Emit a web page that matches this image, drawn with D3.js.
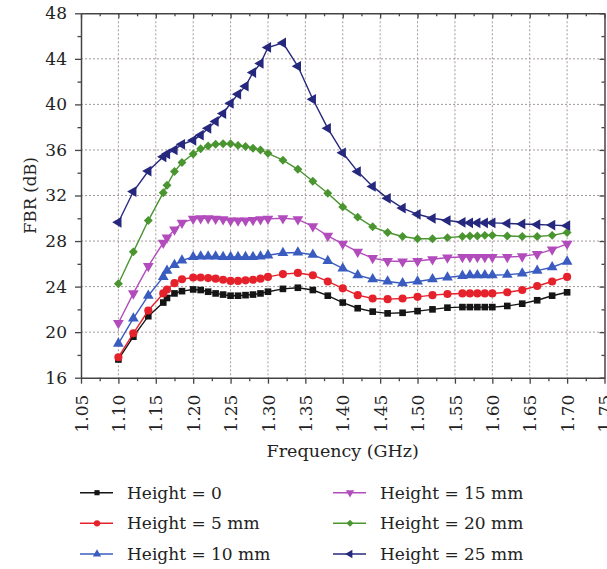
<!DOCTYPE html>
<html>
<head>
<meta charset="utf-8">
<script src="https://cdn.jsdelivr.net/npm/d3@7"></script>
<style>
  body { margin: 0; background: #fff; }
  svg { display: block; }
  svg text { font-family: "DejaVu Serif", "Liberation Serif", serif; }
</style>
</head>
<body>
<svg id="chart" width="607" height="569"></svg>
<script>
const freq = [1.10, 1.12, 1.14, 1.16, 1.165, 1.175, 1.185, 1.20, 1.21, 1.22, 1.23, 1.24, 1.25, 1.26, 1.27, 1.28, 1.29, 1.30,
  1.32, 1.34, 1.36, 1.38, 1.40, 1.42, 1.44, 1.46, 1.48, 1.50, 1.52, 1.54, 1.56, 1.57, 1.58, 1.59, 1.60, 1.62, 1.64, 1.66, 1.68, 1.70];

const height0 = [17.6, 19.6, 21.4, 22.6, 23.0, 23.4, 23.6, 23.75, 23.7, 23.55, 23.4, 23.3, 23.2, 23.2, 23.25, 23.3, 23.4, 23.55,
  23.8, 23.9, 23.7, 23.2, 22.6, 22.1, 21.8, 21.65, 21.7, 21.85, 22.0, 22.15, 22.2, 22.2, 22.2, 22.2, 22.2, 22.3, 22.5, 22.8, 23.2, 23.5];
const height5 = [17.8, 19.9, 21.9, 23.4, 23.75, 24.3, 24.65, 24.8, 24.8, 24.75, 24.7, 24.6, 24.5, 24.5, 24.55, 24.6, 24.7, 24.85,
  25.1, 25.2, 25.0, 24.45, 23.85, 23.25, 22.95, 22.9, 22.95, 23.1, 23.25, 23.35, 23.4, 23.4, 23.4, 23.4, 23.4, 23.5, 23.7, 24.05, 24.45, 24.85];
const height10 = [19.0, 21.2, 23.2, 24.85, 25.4, 25.9, 26.3, 26.6, 26.65, 26.65, 26.65, 26.6, 26.6, 26.6, 26.6, 26.6, 26.65, 26.75,
  26.95, 27.0, 26.8, 26.25, 25.6, 25.0, 24.65, 24.45, 24.3, 24.45, 24.65, 24.8, 24.95, 25.0, 25.0, 25.0, 25.0, 25.05, 25.15, 25.4, 25.7, 26.2];
const height15 = [20.8, 23.4, 25.8, 27.85, 28.3, 29.0, 29.6, 29.95, 30.0, 30.0, 29.95, 29.9, 29.8, 29.8, 29.8, 29.85, 29.9, 29.95,
  30.0, 29.9, 29.3, 28.45, 27.75, 27.05, 26.5, 26.25, 26.2, 26.25, 26.4, 26.55, 26.6, 26.6, 26.6, 26.6, 26.6, 26.6, 26.65, 26.85, 27.25, 27.75];
const height20 = [24.25, 27.05, 29.8, 32.25, 32.9, 34.1, 34.9, 35.65, 36.1, 36.35, 36.5, 36.55, 36.55, 36.4, 36.3, 36.15, 36.0, 35.7,
  35.1, 34.3, 33.25, 32.2, 31.0, 30.1, 29.25, 28.75, 28.4, 28.2, 28.2, 28.3, 28.4, 28.45, 28.45, 28.5, 28.5, 28.45, 28.4, 28.4, 28.5, 28.75];
const height25 = [29.65, 32.35, 34.15, 35.4, 35.65, 36.0, 36.5, 36.85, 37.3, 37.9, 38.5, 39.2, 40.1, 40.9, 41.6, 42.8, 43.6, 45.0,
  45.4, 43.35, 40.45, 37.9, 35.75, 34.1, 32.8, 31.75, 30.9, 30.35, 30.0, 29.8, 29.65, 29.6, 29.6, 29.6, 29.6, 29.55, 29.5, 29.45, 29.4, 29.35];

const seriesNames = ["Height = 0", "Height = 5 mm", "Height = 10 mm", "Height = 15 mm", "Height = 20 mm", "Height = 25 mm"];
const xTicks = [1.05, 1.10, 1.15, 1.20, 1.25, 1.30, 1.35, 1.40, 1.45, 1.50, 1.55, 1.60, 1.65, 1.70, 1.75];
const yTicks = [16, 20, 24, 28, 32, 36, 40, 44, 48];

const seriesValues = [height0, height5, height10, height15, height20, height25];
const colors = ["#151515", "#e5222b", "#3a5cc0", "#b24cbc", "#4a9530", "#26287e"];
// symbol type, rotation, size
const markers = [
  [d3.symbolSquare, 0, 44],
  [d3.symbolCircle, 0, 52],
  [d3.symbolTriangle, 0, 50],
  [d3.symbolTriangle, 180, 50],
  [d3.symbolSquare, 45, 40],
  [d3.symbolTriangle, -90, 50]
];

const plotL = 81, plotR = 604.5, plotT = 13.3, plotB = 377.7;
const svg = d3.select("#chart");

const x = d3.scaleLinear().domain([1.05, 1.75]).range([plotL, plotR]);
const y = d3.scaleLinear().domain([16, 48]).range([plotB, plotT]);

// grid
const grid = svg.append("g").attr("stroke", "#a39a98").attr("stroke-width", 1).attr("stroke-dasharray", "2,2");
grid.selectAll("line.vx").data(xTicks.slice(1, -1)).enter().append("line")
  .attr("x1", d => x(d)).attr("x2", d => x(d)).attr("y1", plotT).attr("y2", plotB);
grid.selectAll("line.hy").data(yTicks.slice(1, -1)).enter().append("line")
  .attr("x1", plotL).attr("x2", plotR).attr("y1", d => y(d)).attr("y2", d => y(d));

// axes
const xMinor = d3.range(0, 14).map(i => 1.075 + i * 0.05);
const yMinor = d3.range(0, 8).map(i => 18 + i * 4);
const fmtX = d3.format(".2f");

const axisStyle = g => g.call(s => s.select(".domain").attr("stroke", "#444").attr("stroke-width", 1.5))
  .call(s => s.selectAll(".tick line").attr("stroke", "#444").attr("stroke-width", 1.3));

svg.append("g").attr("transform", `translate(0,${plotB})`)
  .call(d3.axisBottom(x).tickValues(xTicks).tickFormat(fmtX).tickSize(6).tickSizeOuter(0))
  .call(axisStyle)
  .call(g => g.selectAll(".tick text")
    .attr("font-size", 17).attr("fill", "#222")
    .attr("transform", "rotate(-90)").attr("text-anchor", "end")
    .attr("x", -17).attr("y", 0).attr("dy", "0.36em"));
svg.append("g").attr("transform", `translate(0,${plotB})`)
  .call(d3.axisBottom(x).tickValues(xMinor).tickFormat("").tickSize(3.5))
  .call(axisStyle).call(g => g.select(".domain").remove());

svg.append("g").attr("transform", `translate(0,${plotT})`)
  .call(d3.axisBottom(x).tickValues(xTicks).tickFormat("").tickSize(5).tickSizeOuter(0))
  .call(axisStyle);
svg.append("g").attr("transform", `translate(0,${plotT})`)
  .call(d3.axisBottom(x).tickValues(xMinor).tickFormat("").tickSize(3))
  .call(axisStyle).call(g => g.select(".domain").remove());

svg.append("g").attr("transform", `translate(${plotL},0)`)
  .call(d3.axisLeft(y).tickValues(yTicks).tickSize(6).tickSizeOuter(0))
  .call(axisStyle)
  .call(g => g.selectAll(".tick text")
    .attr("font-size", 17).attr("fill", "#222").attr("x", -14));
svg.append("g").attr("transform", `translate(${plotL},0)`)
  .call(d3.axisLeft(y).tickValues(yMinor).tickFormat("").tickSize(3.5))
  .call(axisStyle).call(g => g.select(".domain").remove());

svg.append("g").attr("transform", `translate(${plotR},0)`)
  .call(d3.axisRight(y).tickValues(yTicks).tickFormat("").tickSize(-5).tickSizeOuter(0))
  .call(axisStyle);
svg.append("g").attr("transform", `translate(${plotR},0)`)
  .call(d3.axisRight(y).tickValues(yMinor).tickFormat("").tickSize(-3))
  .call(axisStyle).call(g => g.select(".domain").remove());

// axis titles
svg.append("text")
  .attr("x", (plotL + plotR) / 2).attr("y", 457)
  .attr("text-anchor", "middle").attr("font-size", 17.5).attr("fill", "#222")
  .text("Frequency (GHz)");
svg.append("text")
  .attr("transform", `translate(36,${(plotT + plotB) / 2}) rotate(-90)`)
  .attr("text-anchor", "middle").attr("font-size", 16.5).attr("fill", "#222")
  .text("FBR (dB)");

// series
const line = d3.line().x((d, i) => x(freq[i])).y(d => y(d));
const symbolPath = (m, scale) => d3.symbol().type(m[0]).size(m[2] * scale)();

seriesValues.forEach((vals, k) => {
  const g = svg.append("g");
  g.append("path").datum(vals)
    .attr("d", line).attr("fill", "none")
    .attr("stroke", colors[k]).attr("stroke-width", 1.4);
  g.selectAll("path.pt").data(vals).enter().append("path")
    .attr("class", "pt")
    .attr("d", symbolPath(markers[k], 1))
    .attr("transform", (d, i) => `translate(${x(freq[i])},${y(d)}) rotate(${markers[k][1]})`)
    .attr("fill", colors[k]);
});

// legend
const legendPos = [[80, 492.7], [80, 523.3], [80, 554], [333, 492.7], [333, 523.3], [333, 554]];
seriesNames.forEach((name, k) => {
  const [lx, ly] = legendPos[k];
  const g = svg.append("g").attr("transform", `translate(${lx},${ly})`);
  g.append("line").attr("x1", 0).attr("x2", 33).attr("y1", 0).attr("y2", 0)
    .attr("stroke", colors[k]).attr("stroke-width", 1.4);
  g.append("path").attr("d", symbolPath(markers[k], 0.6))
    .attr("transform", `translate(17,0) rotate(${markers[k][1]})`)
    .attr("fill", colors[k]);
  g.append("text").attr("x", 47).attr("y", 6)
    .attr("font-size", 17).attr("fill", "#222").text(name);
});
</script>
</body>
</html>
